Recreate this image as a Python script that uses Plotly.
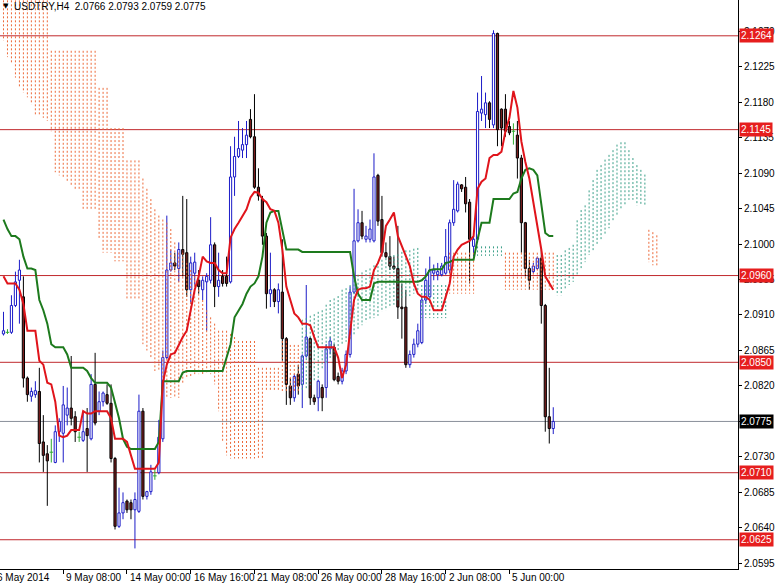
import plotly.graph_objects as go

# ---------------- data ----------------
opens = [
    2.0886, 2.0888, 2.0888, 2.0922, 2.0954, 2.0933, 2.0830, 2.0807, 2.0809, 2.0813,
    2.0749, 2.0734, 2.0736, 2.0723, 2.0762, 2.0760, 2.0783, 2.0792, 2.0781, 2.0755,
    2.0751, 2.0766, 2.0753, 2.0822, 2.0788, 2.0800, 2.0809, 2.0798, 2.0728, 2.0642,
    2.0659, 2.0674, 2.0672, 2.0663, 2.0661, 2.0788, 2.0680, 2.0686, 2.0706, 2.0710,
    2.0753, 2.0856, 2.0967, 2.0976, 2.0969, 2.0993, 2.0989, 2.0942, 2.0963, 2.0954,
    2.0942, 2.0952, 2.0954, 2.0999, 2.0946, 2.0959, 2.0959, 2.0952, 2.1085, 2.1111,
    2.1119, 2.1126, 2.1158, 2.1136, 2.1072, 2.1057, 2.1010, 2.0937, 2.0942, 2.0927,
    2.0939, 2.0880, 2.0820, 2.0805, 2.0835, 2.0822, 2.0858, 2.0880, 2.0805, 2.0805,
    2.0818, 2.0818, 2.0867, 2.0869, 2.0832, 2.0826, 2.0839, 2.0860, 2.0939, 2.1004,
    2.1027, 2.1006, 2.1006, 2.1004, 2.1087, 2.1031, 2.0989, 2.0984, 2.0972, 2.0969,
    2.0920, 2.0920, 2.0847, 2.0860, 2.0873, 2.0875, 2.0929, 2.0933, 2.0963, 2.0961,
    2.0961, 2.0963, 2.0967, 2.1027, 2.1042, 2.1075, 2.1072, 2.1053, 2.0997, 2.1006,
    2.1166, 2.1164, 2.1179, 2.1151, 2.1267, 2.1171, 2.1171, 2.1149, 2.1143, 2.1138,
    2.1109, 2.1027, 2.0969, 2.0965, 2.0969, 2.0982, 2.0922, 2.0781, 2.0766]
highs = [
    2.0914, 2.0892, 2.0935, 2.0965, 2.0980, 2.0959, 2.0832, 2.0818, 2.0826, 2.0843,
    2.0783, 2.0745, 2.0753, 2.0770, 2.0779, 2.0820, 2.0818, 2.0858, 2.0788, 2.0762,
    2.0788, 2.0792, 2.0835, 2.0862, 2.0813, 2.0813, 2.0822, 2.0822, 2.0730, 2.0691,
    2.0685, 2.0676, 2.0676, 2.0685, 2.0809, 2.0792, 2.0687, 2.0720, 2.0714, 2.0777,
    2.0865, 2.1036, 2.0993, 2.0989, 2.1002, 2.1061, 2.1057, 2.0984, 2.0989, 2.0967,
    2.0959, 2.0963, 2.1034, 2.1002, 2.0989, 2.0967, 2.0984, 2.1124, 2.1136, 2.1156,
    2.1147, 2.1156, 2.1171, 2.1190, 2.1096, 2.1061, 2.1014, 2.0989, 2.0944, 2.0950,
    2.1006, 2.0882, 2.0830, 2.0835, 2.0847, 2.0860, 2.0948, 2.0882, 2.0809, 2.0828,
    2.0822, 2.0873, 2.0882, 2.0873, 2.0837, 2.0843, 2.0865, 2.0946, 2.1070, 2.1044,
    2.1042, 2.1023, 2.1031, 2.1115, 2.1089, 2.1061, 2.1002, 2.1010, 2.0984, 2.1023,
    2.0950, 2.0942, 2.0865, 2.0880, 2.0899, 2.0933, 2.0969, 2.0984, 2.0974, 2.0976,
    2.0976, 2.1019, 2.1031, 2.1081, 2.1079, 2.1076, 2.1085, 2.1057, 2.1010, 2.1192,
    2.1213, 2.1192, 2.1181, 2.1271, 2.1268, 2.1172, 2.1190, 2.1156, 2.1153, 2.1156,
    2.1113, 2.1028, 2.0980, 2.0976, 2.0984, 2.0993, 2.0924, 2.0843, 2.0793]
lows = [
    2.0884, 2.0886, 2.0886, 2.0920, 2.0899, 2.0818, 2.0800, 2.0800, 2.0805, 2.0723,
    2.0711, 2.0668, 2.0723, 2.0722, 2.0749, 2.0723, 2.0770, 2.0770, 2.0749, 2.0749,
    2.0749, 2.0711, 2.0751, 2.0770, 2.0783, 2.0794, 2.0796, 2.0723, 2.0638, 2.0640,
    2.0651, 2.0659, 2.0651, 2.0614, 2.0659, 2.0676, 2.0676, 2.0682, 2.0701, 2.0708,
    2.0749, 2.0854, 2.0965, 2.0967, 2.0952, 2.0959, 2.0933, 2.0924, 2.0946, 2.0937,
    2.0929, 2.0890, 2.0950, 2.0920, 2.0933, 2.0946, 2.0946, 2.0950, 2.1061, 2.1109,
    2.1109, 2.1109, 2.1134, 2.1070, 2.1055, 2.0999, 2.0918, 2.0920, 2.0920, 2.0912,
    2.0852, 2.0796, 2.0796, 2.0800, 2.0809, 2.0792, 2.0856, 2.0796, 2.0796, 2.0788,
    2.0788, 2.0805, 2.0860, 2.0826, 2.0822, 2.0822, 2.0835, 2.0856, 2.0937, 2.1002,
    2.1006, 2.1002, 2.1002, 2.1002, 2.1023, 2.0984, 2.0982, 2.0967, 2.0967, 2.0905,
    2.0880, 2.0843, 2.0843, 2.0856, 2.0869, 2.0873, 2.0924, 2.0931, 2.0954, 2.0954,
    2.0959, 2.0961, 2.0963, 2.1023, 2.1040, 2.1066, 2.1040, 2.0950, 2.0984, 2.1002,
    2.1156, 2.1147, 2.1147, 2.1147, 2.1124, 2.1124, 2.1136, 2.1138, 2.1126, 2.1083,
    2.0989, 2.0959, 2.0942, 2.0963, 2.0967, 2.0899, 2.0762, 2.0747, 2.0759]
closes = [
    2.0890, 2.0888, 2.0922, 2.0952, 2.0967, 2.0830, 2.0809, 2.0813, 2.0814, 2.0747,
    2.0732, 2.0725, 2.0736, 2.0762, 2.0775, 2.0796, 2.0792, 2.0779, 2.0762, 2.0755,
    2.0762, 2.0757, 2.0822, 2.0773, 2.0800, 2.0811, 2.0798, 2.0728, 2.0642, 2.0659,
    2.0672, 2.0663, 2.0663, 2.0676, 2.0788, 2.0680, 2.0686, 2.0711, 2.0706, 2.0755,
    2.0856, 2.0967, 2.0976, 2.0972, 2.0993, 2.0987, 2.0942, 2.0976, 2.0977, 2.0946,
    2.0954, 2.0959, 2.0999, 2.0946, 2.0954, 2.0950, 2.0950, 2.1085, 2.1111, 2.1121,
    2.1126, 2.1138, 2.1136, 2.1072, 2.1061, 2.1010, 2.0937, 2.0942, 2.0927, 2.0942,
    2.0880, 2.0822, 2.0805, 2.0832, 2.0820, 2.0858, 2.0882, 2.0805, 2.0800, 2.0826,
    2.0805, 2.0867, 2.0877, 2.0828, 2.0826, 2.0839, 2.0860, 2.0939, 2.1004, 2.1027,
    2.1010, 2.1010, 2.1019, 2.1085, 2.1029, 2.0989, 2.0984, 2.0972, 2.0969, 2.0920,
    2.0918, 2.0847, 2.0860, 2.0873, 2.0890, 2.0929, 2.0954, 2.0967, 2.0967, 2.0965,
    2.0972, 2.0984, 2.1027, 2.1044, 2.1076, 2.1070, 2.1051, 2.1006, 2.1006, 2.1168,
    2.1171, 2.1179, 2.1158, 2.1267, 2.1145, 2.1147, 2.1143, 2.1141, 2.1143, 2.1109,
    2.1027, 2.0969, 2.0954, 2.0972, 2.0982, 2.0922, 2.0781, 2.0766, 2.0775]

tenkan = [
    2.0959, 2.0950, 2.0950, 2.0950, 2.0942, 2.0924, 2.0890, 2.0890, 2.0890, 2.0852,
    2.0847, 2.0824, 2.0822, 2.0800, 2.0757, 2.0755, 2.0757, 2.0764, 2.0764, 2.0764,
    2.0788, 2.0785, 2.0785, 2.0788, 2.0788, 2.0788, 2.0788, 2.0779, 2.0753, 2.0753,
    2.0753, 2.0749, 2.0732, 2.0715, 2.0715, 2.0715, 2.0715, 2.0715, 2.0715, 2.0723,
    2.0824, 2.0847, 2.0860, 2.0862, 2.0873, 2.0882, 2.0890, 2.0916, 2.0942, 2.0959,
    2.0984, 2.0978, 2.0976, 2.0976, 2.0967, 2.0963, 2.0963, 2.1008, 2.1019, 2.1027,
    2.1036, 2.1044, 2.1059, 2.1066, 2.1065, 2.1057, 2.1053, 2.1044, 2.1042, 2.1027,
    2.0993, 2.0946, 2.0929, 2.0912, 2.0907, 2.0899, 2.0899, 2.0897, 2.0882, 2.0869,
    2.0869, 2.0869, 2.0869, 2.0869, 2.0856, 2.0830, 2.0847, 2.0890, 2.0929, 2.0942,
    2.0944, 2.0944, 2.0946, 2.0967, 2.0976, 2.0989, 2.1023, 2.1031, 2.1040, 2.1010,
    2.0997, 2.0984, 2.0972, 2.0950, 2.0937, 2.0933, 2.0933, 2.0929, 2.0916, 2.0916,
    2.0916, 2.0933, 2.0950, 2.0984, 2.0993, 2.0999, 2.1002, 2.1004, 2.1010, 2.1070,
    2.1079, 2.1083, 2.1109, 2.1113, 2.1113, 2.1117, 2.1143, 2.1160, 2.1194, 2.1173,
    2.1130, 2.1104, 2.1083, 2.1053, 2.1027, 2.0993, 2.0959, 2.0950, 2.0942]
kijun = [
    2.1031, 2.1019, 2.1010, 2.1010, 2.1006, 2.0984, 2.0969, 2.0969, 2.0967, 2.0929,
    2.0916, 2.0899, 2.0873, 2.0869, 2.0869, 2.0869, 2.0860, 2.0843, 2.0843, 2.0843,
    2.0843, 2.0839, 2.0830, 2.0824, 2.0824, 2.0824, 2.0824, 2.0818, 2.0800, 2.0779,
    2.0753, 2.0743, 2.0740, 2.0740, 2.0740, 2.0740, 2.0740, 2.0740, 2.0740, 2.0749,
    2.0826, 2.0826, 2.0826, 2.0826, 2.0826, 2.0837, 2.0839, 2.0839, 2.0839, 2.0839,
    2.0839, 2.0839, 2.0839, 2.0839, 2.0839, 2.0839, 2.0856, 2.0873, 2.0907, 2.0916,
    2.0924, 2.0937, 2.0946, 2.0950, 2.0959, 2.0984, 2.1027, 2.1040, 2.1042, 2.1042,
    2.1019, 2.0993, 2.0993, 2.0993, 2.0993, 2.0990, 2.0990, 2.0990, 2.0990, 2.0990,
    2.0990, 2.0990, 2.0990, 2.0990, 2.0990, 2.0990, 2.0990, 2.0990, 2.0959, 2.0937,
    2.0929, 2.0929, 2.0929, 2.0950, 2.0952, 2.0952, 2.0952, 2.0952, 2.0952, 2.0952,
    2.0952, 2.0952, 2.0952, 2.0952, 2.0952, 2.0954, 2.0959, 2.0967, 2.0968, 2.0968,
    2.0968, 2.0976, 2.0977, 2.0980, 2.0980, 2.0980, 2.0980, 2.0980, 2.0980, 2.1006,
    2.1027, 2.1027, 2.1027, 2.1057, 2.1057, 2.1057, 2.1057, 2.1057, 2.1064, 2.1066,
    2.1083, 2.1094, 2.1096, 2.1094, 2.1087, 2.1053, 2.1014, 2.1010, 2.1010]

# Senkou spans (shifted 26 bars ahead, so 165 values)
span_a = [
    2.1258, 2.1237, 2.1228, 2.1211, 2.1198, 2.1192, 2.1186, 2.1177, 2.1164, 2.1162,
    2.1160, 2.1156, 2.1143, 2.1091, 2.1087, 2.1083, 2.1079, 2.1074, 2.1070, 2.1070,
    2.1044, 2.1044, 2.1044, 2.1044, 2.1006, 2.0989, 2.0989, 2.0989, 2.0978, 2.0978,
    2.0978, 2.0929, 2.0929, 2.0929, 2.0929, 2.0873, 2.0865, 2.0856, 2.0839, 2.0839,
    2.0813, 2.0805, 2.0805, 2.0805, 2.0805, 2.0822, 2.0830, 2.0830, 2.0835, 2.0835,
    2.0835, 2.0835, 2.0835, 2.0822, 2.0788, 2.0749, 2.0732, 2.0728, 2.0728, 2.0728,
    2.0728, 2.0728, 2.0728, 2.0728, 2.0728, 2.0728, 2.0813, 2.0813, 2.0813, 2.0813,
    2.0812, 2.0812, 2.0812, 2.0812, 2.0812, 2.0904, 2.0906, 2.0909, 2.0911, 2.0914,
    2.0916, 2.0923, 2.0929, 2.0931, 2.0934, 2.0942, 2.0944, 2.0948, 2.0954, 2.0961,
    2.0964, 2.0967, 2.0969, 2.0973, 2.0977, 2.0980, 2.0982, 2.0985, 2.0986, 2.0987,
    2.0990, 2.0992, 2.0992, 2.0994, 2.0995, 2.0948, 2.0948, 2.0948, 2.0948, 2.0948,
    2.0948, 2.0948, 2.0937, 2.0937, 2.0937, 2.0937, 2.0937, 2.0937, 2.0937, 2.0997,
    2.0997, 2.0997, 2.0997, 2.0997, 2.0997, 2.0997, 2.0942, 2.0942, 2.0942, 2.0942,
    2.0942, 2.0942, 2.0942, 2.0942, 2.0942, 2.0942, 2.0942, 2.0942, 2.0942, 2.0986,
    2.0986, 2.0992, 2.0995, 2.0999, 2.1030, 2.1043, 2.1049, 2.1068, 2.1081, 2.1094,
    2.1100, 2.1107, 2.1113, 2.1119, 2.1126, 2.1129, 2.1129, 2.1119, 2.1109, 2.1100,
    2.1094, 2.1088, 2.0977, 2.0973, 2.0973]
span_b = [
    2.1309, 2.1309, 2.1309, 2.1309, 2.1309, 2.1309, 2.1309, 2.1309, 2.1309, 2.1309,
    2.1309, 2.1309, 2.1245, 2.1245, 2.1245, 2.1245, 2.1245, 2.1245, 2.1245, 2.1245,
    2.1245, 2.1245, 2.1245, 2.1245, 2.1198, 2.1198, 2.1198, 2.1147, 2.1147, 2.1147,
    2.1147, 2.1106, 2.1106, 2.1106, 2.1106, 2.1083, 2.1070, 2.1057, 2.1044, 2.1036,
    2.1031, 2.1027, 2.1019, 2.1002, 2.0989, 2.0989, 2.0976, 2.0967, 2.0959, 2.0942,
    2.0929, 2.0916, 2.0907, 2.0899, 2.0890, 2.0890, 2.0890, 2.0886, 2.0882, 2.0877,
    2.0877, 2.0877, 2.0877, 2.0877, 2.0843, 2.0843, 2.0843, 2.0843, 2.0843, 2.0843,
    2.0877, 2.0877, 2.0872, 2.0872, 2.0872, 2.0815, 2.0817, 2.0821, 2.0825, 2.0830,
    2.0840, 2.0847, 2.0853, 2.0859, 2.0863, 2.0872, 2.0876, 2.0878, 2.0885, 2.0891,
    2.0897, 2.0901, 2.0904, 2.0906, 2.0909, 2.0914, 2.0916, 2.0919, 2.0923, 2.0927,
    2.0929, 2.0931, 2.0934, 2.0937, 2.0939, 2.0906, 2.0906, 2.0906, 2.0906, 2.0906,
    2.0906, 2.0906, 2.0989, 2.0989, 2.0989, 2.0989, 2.0989, 2.0989, 2.0989, 2.0985,
    2.0985, 2.0985, 2.0985, 2.0985, 2.0985, 2.0985, 2.0989, 2.0989, 2.0989, 2.0989,
    2.0989, 2.0989, 2.0989, 2.0989, 2.0989, 2.0989, 2.0989, 2.0989, 2.0989, 2.0935,
    2.0935, 2.0942, 2.0948, 2.0952, 2.0961, 2.0967, 2.0977, 2.0986, 2.0992, 2.0999,
    2.1005, 2.1011, 2.1020, 2.1028, 2.1037, 2.1043, 2.1049, 2.1056, 2.1056, 2.1049,
    2.1049, 2.1049, 2.1018, 2.1015, 2.1011]

level_prices = [2.1264, 2.1145, 2.0960, 2.0850, 2.0710, 2.0625]
last_price = 2.0775
price_ticks = [2.0595, 2.0640, 2.0685, 2.0730, 2.0775, 2.0820, 2.0865, 2.0910,
               2.0955, 2.1000, 2.1045, 2.1090, 2.1135, 2.1180, 2.1225, 2.1270]
time_tick_bars = [15, 31, 47, 63, 79, 95, 111, 127]
time_tick_labels = ["9 May 08:00", "14 May 00:00", "16 May 16:00", "21 May 08:00",
                    "26 May 00:00", "28 May 16:00", "2 Jun 08:00", "5 Jun 00:00"]
first_date_label = "6 May 2014"
title_text = "USDTRY,H4\u00a0\u00a02.0766 2.0793 2.0759 2.0775"

# ---------------- styling ----------------
FONT = "Liberation Sans"
BULL_LINE = "#1c1cc8"
BEAR_FILL = "#7a1e1e"
BEAR_LINE = "#000000"
DOJI = "#2eaa2e"
CLOUD_DOWN = "#ec6a3a"
CLOUD_UP = "#3a9f88"
TENKAN_C = "#e0141b"
KIJUN_C = "#1d7a1d"
LEVEL_C = "#c0282d"
LABEL_BG = "#e61e1e"

n = len(opens)
bars = list(range(n))

fig = go.Figure()

# cloud (dotted vertical hatching)
cx_dn, cy_dn, cx_up, cy_up = [], [], [], []
for k in range(len(span_a)):
    if span_a[k] < span_b[k]:
        cx_dn += [k, k, None]
        cy_dn += [span_b[k], span_a[k], None]
    else:
        cx_up += [k, k, None]
        cy_up += [span_a[k], span_b[k], None]

# candles
bull_x, bull_base, bull_h = [], [], []
bear_x, bear_base, bear_h = [], [], []
wb_x, wb_y, wr_x, wr_y, wd_x, wd_y = [], [], [], [], [], []
for k in bars:
    o, h, l, c = opens[k], highs[k], lows[k], closes[k]
    top, bot = max(o, c), min(o, c)
    if c > o:
        bull_x.append(k); bull_base.append(bot); bull_h.append(top - bot)
        wb_x += [k, k, None, k, k, None]
        wb_y += [top, h, None, l, bot, None]
    elif c < o:
        bear_x.append(k); bear_base.append(bot); bear_h.append(top - bot)
        wr_x += [k, k, None, k, k, None]
        wr_y += [top, h, None, l, bot, None]
    else:
        wd_x += [k, k, None, k - 0.45, k + 0.45, None]
        wd_y += [l, h, None, o, o, None]

fig.add_trace(go.Bar(x=bull_x, y=bull_h, base=bull_base, width=0.55,
                     marker=dict(color="white", line=dict(color=BULL_LINE, width=1))))
fig.add_trace(go.Bar(x=bear_x, y=bear_h, base=bear_base, width=0.55,
                     marker=dict(color=BEAR_FILL, line=dict(color=BEAR_LINE, width=1))))
fig.add_trace(go.Scatter(x=wb_x, y=wb_y, mode="lines", line=dict(color=BULL_LINE, width=1)))
fig.add_trace(go.Scatter(x=wr_x, y=wr_y, mode="lines", line=dict(color=BEAR_LINE, width=1)))
fig.add_trace(go.Scatter(x=wd_x, y=wd_y, mode="lines", line=dict(color=DOJI, width=1)))

fig.add_trace(go.Scatter(x=cx_dn, y=cy_dn, mode="lines",
                         line=dict(color=CLOUD_DOWN, width=1, dash="2px,2px")))
fig.add_trace(go.Scatter(x=cx_up, y=cy_up, mode="lines",
                         line=dict(color=CLOUD_UP, width=1, dash="2px,2px")))

fig.add_trace(go.Scatter(x=bars, y=kijun, mode="lines", line=dict(color=KIJUN_C, width=2)))
fig.add_trace(go.Scatter(x=bars, y=tenkan, mode="lines", line=dict(color=TENKAN_C, width=2)))

shapes = []
for p in level_prices:
    shapes.append(dict(type="line", xref="paper", x0=0, x1=1, yref="y", y0=p, y1=p,
                       line=dict(color=LEVEL_C, width=1), layer="below"))
shapes.append(dict(type="line", xref="paper", x0=0, x1=1, yref="y", y0=last_price,
                   y1=last_price, line=dict(color="#8a8f99", width=1), layer="below"))

annotations = []
for p in level_prices:
    annotations.append(dict(x=1, xref="paper", y=p, yref="y", xanchor="left", yanchor="middle",
                            text=f"{p:.4f}", showarrow=False, bgcolor=LABEL_BG, borderpad=1,
                            xshift=1, font=dict(family=FONT, size=10, color="white")))
annotations.append(dict(x=1, xref="paper", y=last_price, yref="y", xanchor="left",
                        yanchor="middle", text=f"{last_price:.4f}", showarrow=False,
                        bgcolor="black", borderpad=1, xshift=1,
                        font=dict(family=FONT, size=10, color="white")))
for b, t in zip(time_tick_bars, time_tick_labels):
    annotations.append(dict(x=b, xref="x", y=0, yref="paper", xanchor="left", yanchor="top",
                            text=t, showarrow=False, xshift=1, yshift=-1,
                            font=dict(family=FONT, size=10, color="black")))
annotations.append(dict(x=0, xref="paper", y=0, yref="paper", xanchor="left", yanchor="top",
                        text=first_date_label, showarrow=False, xshift=-5, yshift=-1,
                        font=dict(family=FONT, size=10, color="black")))
annotations.append(dict(x=0, xref="paper", y=1, yref="paper", xanchor="left", yanchor="top",
                        text=title_text, showarrow=False, xshift=12, yshift=1,
                        font=dict(family=FONT, size=10, color="black")))
annotations.append(dict(x=0, xref="paper", y=1, yref="paper", xanchor="left", yanchor="top",
                        text="\u25BC", showarrow=False, xshift=1, yshift=0,
                        font=dict(family="DejaVu Sans", size=7, color="black")))

# the tick label at the last price sits fully under the black price box
tick_text = ["" if abs(v - last_price) < 1e-9 else f"{v:.4f}" for v in price_ticks]

fig.update_layout(
    width=775, height=584,
    margin=dict(l=0, r=34, t=0, b=15),
    paper_bgcolor="white", plot_bgcolor="white",
    showlegend=False, barmode="overlay", hovermode=False,
    shapes=shapes, annotations=annotations,
    font=dict(family=FONT, size=10, color="black"),
)
fig.update_xaxes(range=[-0.875, 184.375], showgrid=False, zeroline=False,
                 showline=True, linecolor="black", linewidth=1,
                 ticks="outside", ticklen=4, tickcolor="black",
                 tickvals=time_tick_bars, ticktext=[""] * len(time_tick_bars))
fig.update_yaxes(range=[2.05879, 2.13094], side="right", showgrid=False, zeroline=False,
                 showline=True, linecolor="black", linewidth=1,
                 ticks="outside", ticklen=3, tickcolor="black",
                 tickvals=price_ticks, ticktext=tick_text,
                 tickfont=dict(family=FONT, size=10, color="black"))

fig.write_html("out.html", config={"displayModeBar": False},
               post_script="document.body.style.margin='0px';document.body.style.overflow='hidden';")
